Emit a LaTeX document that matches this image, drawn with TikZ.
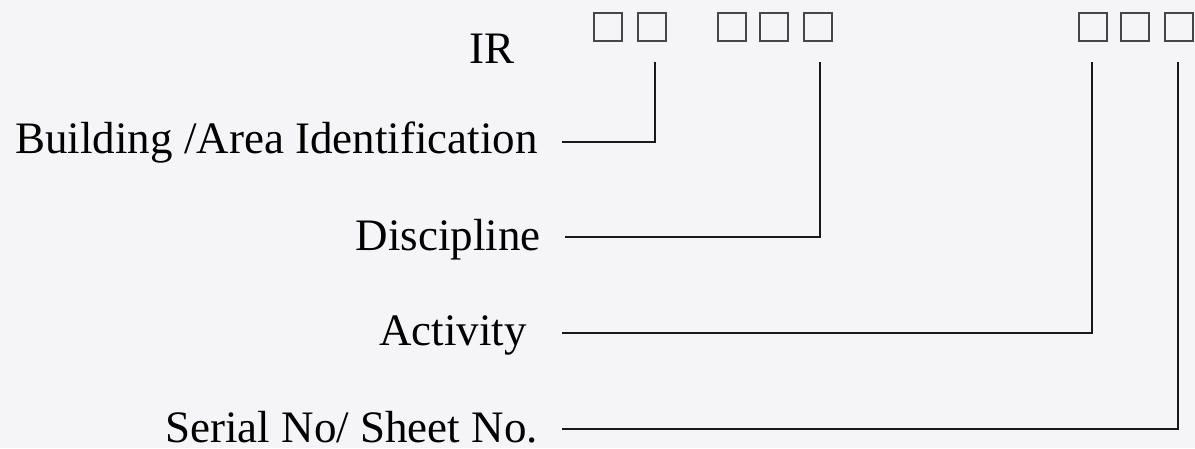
\documentclass[tikz,border=0pt]{standalone}
\usepackage{fontspec}
\setmainfont{Liberation Serif}
\definecolor{bgc}{RGB}{245,245,247}
\definecolor{boxc}{RGB}{70,70,70}
\definecolor{linec}{RGB}{25,25,25}
\begin{document}
\begin{tikzpicture}[x=1pt,y=-1pt,
  lbl/.style={font=\fontsize{45}{50}\selectfont, inner sep=0pt, anchor=base east, text=black},
  cell/.style={draw=boxc, line width=2pt, minimum size=28pt, inner sep=0pt},
  conn/.style={line width=2.8pt, draw=linec}]
\fill[bgc] (0,0) rectangle (1195,448);
\useasboundingbox (0,0) rectangle (1195,448);
% code cells
\node[cell] (c1) at (608,27) {};
\node[cell] (c2) at (651.5,27) {};
\node[cell] (c3) at (732,27) {};
\node[cell] (c4) at (774,27) {};
\node[cell] (c5) at (818,27) {};
\node[cell] (c6) at (1093,27) {};
\node[cell] (c7) at (1135,27) {};
\node[cell] (c8) at (1178.5,27) {};
% labels
\node[lbl] (ir) at (515,63) {IR};
\node[lbl] (bld) at (538,153) {Building /Area Identification};
\node[lbl] (dis) at (541,250) {Discipline};
\node[lbl] (act) at (527,345) {Activity};
\node[lbl] (ser) at (538,442) {Serial No/ Sheet No.};
% connector ends
\coordinate (s1) at (562,142);
\coordinate (t1) at (655,62);
\coordinate (s2) at (565,237);
\coordinate (t2) at (820,62);
\coordinate (s3) at (562,333);
\coordinate (t3) at (1092,62);
\coordinate (s4) at (562,429);
\coordinate (t4) at (1178,62);
\draw[conn] (s1) -| (t1);
\draw[conn] (s2) -| (t2);
\draw[conn] (s3) -| (t3);
\draw[conn] (s4) -| (t4);
\end{tikzpicture}
\end{document}
